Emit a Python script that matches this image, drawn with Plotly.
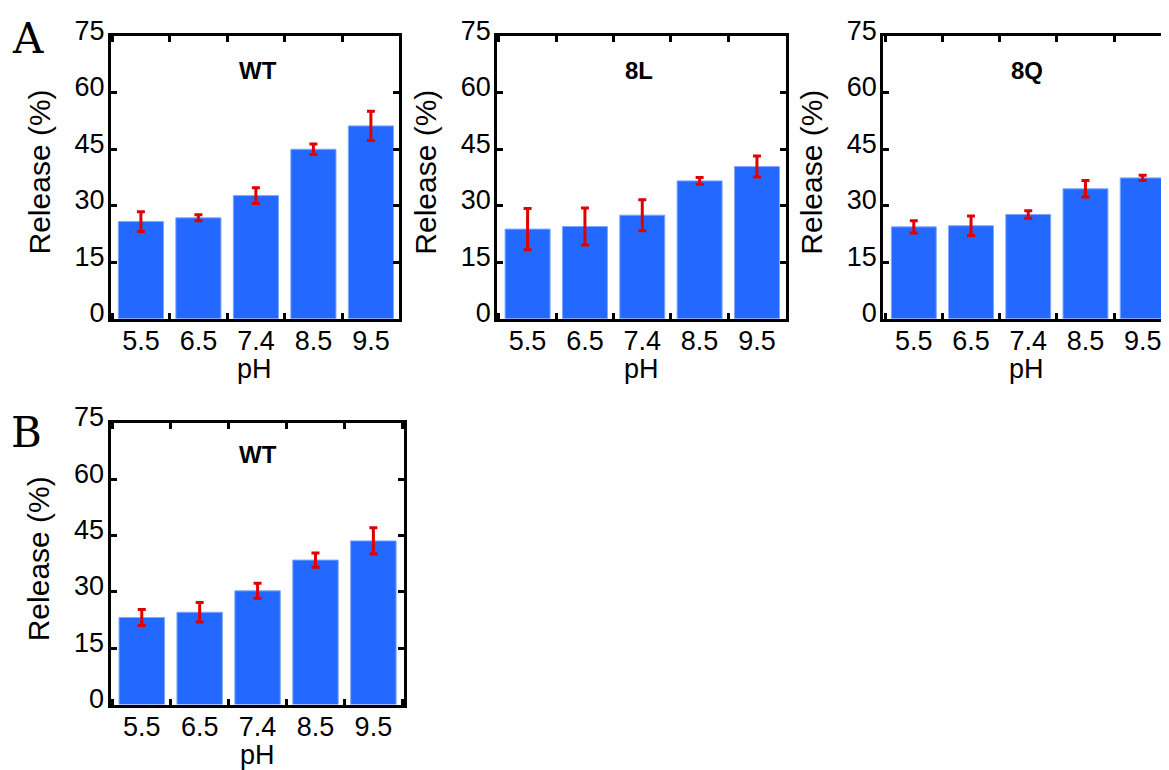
import plotly.graph_objects as go

# ---------------- data ----------------
ph_labels = ["5.5", "6.5", "7.4", "8.5", "9.5"]

wt_a = [25.8, 26.8, 32.7, 45.0, 51.2]
wt_a_err = [2.6, 0.8, 2.1, 1.4, 3.9]

l8_a = [23.8, 24.5, 27.5, 36.6, 40.4]
l8_a_err = [5.5, 4.9, 4.1, 0.9, 2.8]

q8_a = [24.4, 24.7, 27.7, 34.5, 37.4]
q8_a_err = [1.6, 2.6, 1.0, 2.2, 0.7]

wt_b = [23.2, 24.6, 30.3, 38.5, 43.6]
wt_b_err = [2.1, 2.6, 2.0, 1.9, 3.5]

panel_titles = ["WT", "8L", "8Q", "WT"]
y_ticks = [0, 15, 30, 45, 60, 75]

# ---------------- layout geometry (pixels, screen coords) ----------------
OFF = 8                      # default page body margin
W, H = 1169 - OFF, 770 - OFF # figure size so it ends at the window edge
BAR_COLOR = "#2369FF"
BAR_EDGE = "#7FA8FF"
ERR_COLOR = "#E00000"
SANS = "Liberation Sans, Arial, sans-serif"


def fx(px):
    return (px - OFF) / W


def fy(py):
    return 1 - (py - OFF) / H


# (left, right, top, bottom) of plot areas in screen px, and x ranges
panels = [
    dict(data=wt_a, err=wt_a_err, box=(111, 398.5, 36.2, 318.8), xr=[-0.52, 4.48], title=(257.5, 70)),
    dict(data=l8_a, err=l8_a_err, box=(497.2, 786.2, 36.2, 318.8), xr=[-0.53, 4.51], title=(638.5, 70.5)),
    dict(data=q8_a, err=q8_a_err, box=(883.2, 1169, 36.2, 318.8), xr=[-0.535, 4.46], title=(1026.5, 71)),
    dict(data=wt_b, err=wt_b_err, box=(110.5, 403.5, 423.0, 704.6), xr=[-0.54, 4.52], title=(258.3, 454.7)),
]

fig = go.Figure()
layout = dict(
    width=W, height=H,
    margin=dict(l=0, r=0, t=0, b=0, autoexpand=False),
    paper_bgcolor="white", plot_bgcolor="white",
    showlegend=False,
    bargap=0.215,
    font=dict(family=SANS, color="black"),
)
annotations = []

for i, p in enumerate(panels):
    n = "" if i == 0 else str(i + 1)
    l, r, t, b = p["box"]
    fig.add_trace(go.Bar(
        x=ph_labels, y=p["data"],
        xaxis="x" + n, yaxis="y" + n,
        marker=dict(color=BAR_COLOR, line=dict(color=BAR_EDGE, width=1)),
        error_y=dict(type="data", array=p["err"], visible=True,
                     color=ERR_COLOR, thickness=3, width=4),
        hoverinfo="skip",
    ))
    layout["xaxis" + n] = dict(
        domain=[fx(l), min(fx(r), 1.0)],
        anchor="y" + n,
        type="category",
        range=p["xr"],
        tickson="boundaries",
        ticks="inside", ticklen=6, tickwidth=3, tickcolor="black",
        showline=True, linewidth=3, linecolor="black", mirror="allticks",
        showgrid=False, zeroline=False,
        tickfont=dict(family=SANS, size=27, color="black"),
        ticklabelstandoff=-4,
        automargin=False,
        fixedrange=True,
    )
    layout["yaxis" + n] = dict(
        domain=[fy(b), fy(t)],
        anchor="x" + n,
        range=[0, 75],
        tickmode="array", tickvals=y_ticks,
        ticks="inside", ticklen=6, tickwidth=3, tickcolor="black",
        showline=True, linewidth=3, linecolor="black", mirror="allticks",
        showgrid=False, zeroline=False,
        tickfont=dict(family=SANS, size=27, color="black"),
        ticklabelstandoff=-2,
        ticklabelshift=-6,
        automargin=False,
        fixedrange=True,
    )
    # panel title
    tx, ty = p["title"]
    annotations.append(dict(
        text="<b>%s</b>" % panel_titles[i], x=fx(tx), y=fy(ty),
        xref="paper", yref="paper", xanchor="center", yanchor="middle",
        showarrow=False, font=dict(family=SANS, size=24, color="black"),
    ))
    # y title
    annotations.append(dict(
        text="Release (%)", x=fx(l - 72), y=fy((t + b) / 2 - 5),
        xref="paper", yref="paper", xanchor="center", yanchor="middle",
        textangle=-90, showarrow=False,
        font=dict(family=SANS, size=30, color="black"),
    ))
    # x title
    annotations.append(dict(
        text="pH", x=fx((l + min(r, 1170.5)) / 2), y=fy(b + 50),
        xref="paper", yref="paper", xanchor="center", yanchor="middle",
        showarrow=False, font=dict(family=SANS, size=27, color="black"),
    ))

# panel letters
for letter, (px, py) in [("A", (27.5, 39)), ("B", (26.5, 432))]:
    annotations.append(dict(
        text=letter, x=fx(px), y=fy(py),
        xref="paper", yref="paper", xanchor="center", yanchor="middle",
        showarrow=False, font=dict(family="DejaVu Serif, serif", size=42, color="black"),
    ))

layout["annotations"] = annotations
fig.update_layout(**layout)
fig.write_html("out.html")
